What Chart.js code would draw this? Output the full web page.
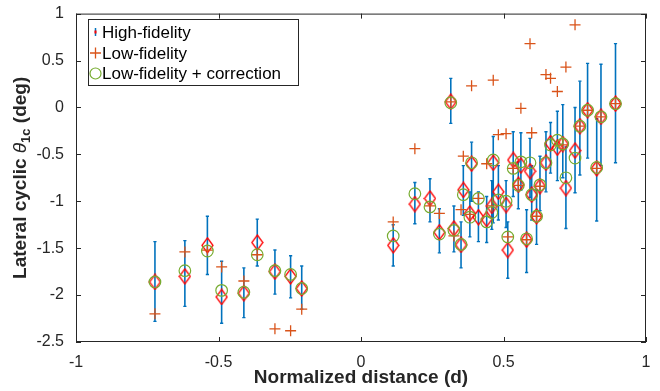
<!DOCTYPE html>
<html>
<head>
<meta charset="utf-8">
<script src="https://cdn.jsdelivr.net/npm/chart.js@4.4.1/dist/chart.umd.min.js"></script>
<style>
  html, body { margin: 0; padding: 0; background: #fff; }
</style>
</head>
<body>
<canvas id="chart" width="660" height="391"></canvas>
<script>
// normalized distance of each test point
const distance = [
  -0.723, -0.618, -0.539, -0.489, -0.411, -0.364, -0.302, -0.247, -0.208,
  0.113, 0.189, 0.242, 0.275, 0.315, 0.326, 0.351, 0.359, 0.388, 0.382,
  0.412, 0.441, 0.459, 0.464, 0.482, 0.509, 0.515, 0.534, 0.552, 0.561,
  0.581, 0.593, 0.599, 0.616, 0.628, 0.649, 0.665, 0.689, 0.708, 0.719,
  0.751, 0.768, 0.795, 0.827, 0.842, 0.893
];
const highFidelity = [
  -1.86, -1.80, -1.47, -2.02, -1.98, -1.44, -1.75, -1.80, -1.93,
  -1.47, -1.03, -0.97, -1.33, 0.06, -1.29, -1.465, -0.88, -0.60, -1.13,
  -1.17, -1.19, -1.05, -0.59, -0.90, -1.04, -1.52, -0.56, -0.825, -0.62,
  -1.41, -0.68, -0.93, -1.16, -0.84, -0.59, -0.38, -0.43, -0.39, -0.86,
  -0.46, -0.20, -0.03, -0.65, -0.10, 0.04
];
const lowFidelity = [
  -2.20, -1.54, -1.52, -1.70, -1.85, -1.57, -2.36, -2.38, -2.15,
  -1.22, -0.44, -1.05, -1.13, 0.06, -1.37, -1.09, -0.52, 0.23, -1.14,
  -0.97, -0.60, -1.05, 0.29, -0.29, -0.28, -1.38, -0.65, -0.83, -0.01,
  -1.41, 0.68, -0.27, -1.16, -0.84, 0.35, 0.31, 0.17, -0.40, 0.43,
  0.88, -0.20, -0.03, -0.65, -0.10, 0.04
];
const corrected = [
  -1.86, -1.74, -1.53, -1.95, -1.97, -1.57, -1.74, -1.78, -1.93,
  -1.37, -0.92, -1.06, -1.35, 0.05, -1.31, -1.46, -0.93, -0.59, -1.17,
  -0.97, -1.22, -1.12, -0.56, -0.985, -1.00, -1.38, -0.65, -0.83, -0.58,
  -1.40, -0.59, -0.93, -1.16, -0.825, -0.59, -0.40, -0.35, -0.39, -0.75,
  -0.54, -0.20, -0.03, -0.64, -0.10, 0.04
];
const errLow = [
  -2.28, -2.12, -1.78, -2.30, -2.24, -1.69, -1.99, -2.03, -2.15,
  -1.69, -1.24, -1.22, -1.55, -0.17, -1.54, -1.71, -1.15, -1.00, -1.38,
  -1.43, -1.44, -1.30, -1.23, -1.20, -1.28, -1.82, -0.95, -1.08, -0.88,
  -1.76, -0.96, -1.20, -1.46, -1.10, -0.90, -0.70, -0.78, -0.75, -1.29,
  -0.91, -0.72, -0.54, -1.21, -0.62, -0.59
];
const errHigh = [
  -1.43, -1.42, -1.16, -1.64, -1.71, -1.19, -1.52, -1.58, -1.69,
  -1.25, -0.80, -0.76, -1.08, 0.31, -1.05, -1.22, -0.62, -0.37, -0.90,
  -0.90, -0.95, -0.78, -0.31, -0.62, -0.78, -1.22, -0.26, -0.58, -0.27,
  -1.09, -0.33, -0.62, -0.88, -0.52, -0.26, -0.16, -0.04, 0.03, -0.42,
  0.00, 0.28, 0.47, -0.12, 0.46, 0.68
];
const xTicks = [-1, -0.5, 0, 0.5, 1];
const yTicks = [-2.5, -2, -1.5, -1, -0.5, 0, 0.5, 1];
const seriesNames = ["High-fidelity", "Low-fidelity", "Low-fidelity + correction"];

const BLUE = "#0072BD";
const RED = "#FF0000";
const ORANGE = "#D95319";
const GREEN = "#77AC30";
const AXIS = "#262626";
const FONT = "'Liberation Sans', Arial, Helvetica, sans-serif";

function makeDiamond(w, h, color) {
  const c = document.createElement("canvas");
  c.width = w; c.height = h;
  const g = c.getContext("2d");
  g.strokeStyle = color;
  g.lineWidth = 1.3;
  g.beginPath();
  g.moveTo(w / 2, 1);
  g.lineTo(w - 1, h / 2);
  g.lineTo(w / 2, h - 1);
  g.lineTo(1, h / 2);
  g.closePath();
  g.stroke();
  return c;
}
const diamond = makeDiamond(13, 17, RED);

const pts = (ys) => distance.map((x, i) => ({ x: x, y: ys[i] }));
const errData = [];
distance.forEach((x, i) => {
  errData.push({ x: x, y: errLow[i] }, { x: x, y: errHigh[i] }, { x: x, y: null });
});

// box, inward ticks, axis titles and the legend, MATLAB style
const matlabFrame = {
  id: "matlabFrame",
  afterDraw(chart) {
    const ctx = chart.ctx;
    const a = chart.chartArea;
    const sx = chart.scales.x, sy = chart.scales.y;
    ctx.save();
    ctx.strokeStyle = AXIS;
    ctx.lineWidth = 1;
    ctx.strokeRect(a.left + 0.5, a.top + 0.5, a.right - a.left - 1, a.bottom - a.top - 1);
    ctx.beginPath();
    xTicks.forEach((v) => {
      const px = Math.round(sx.getPixelForValue(v)) + 0.5;
      ctx.moveTo(px, a.bottom); ctx.lineTo(px, a.bottom - 5);
      ctx.moveTo(px, a.top); ctx.lineTo(px, a.top + 5);
    });
    yTicks.forEach((v) => {
      const py = Math.round(sy.getPixelForValue(v)) + 0.5;
      ctx.moveTo(a.left, py); ctx.lineTo(a.left + 5, py);
      ctx.moveTo(a.right, py); ctx.lineTo(a.right - 5, py);
    });
    ctx.stroke();

    // x title
    ctx.fillStyle = AXIS;
    ctx.font = "bold 19px " + FONT;
    ctx.textAlign = "center";
    ctx.textBaseline = "middle";
    ctx.fillText("Normalized distance (d)", (a.left + a.right) / 2, 378);

    // y title with subscript
    ctx.save();
    ctx.translate(21, (a.top + a.bottom) / 2);
    ctx.rotate(-Math.PI / 2);
    ctx.textAlign = "left";
    const parts = [
      { t: "Lateral cyclic ", f: "bold 19px " + FONT, dy: 0 },
      { t: "\u03B8", f: "italic 19px " + FONT, dy: 0 },
      { t: "1c", f: "bold 13px " + FONT, dy: 5 },
      { t: " (deg)", f: "bold 19px " + FONT, dy: 0 }
    ];
    let total = 0;
    parts.forEach((p) => { ctx.font = p.f; p.w = ctx.measureText(p.t).width; total += p.w; });
    let cx = -total / 2;
    parts.forEach((p) => { ctx.font = p.f; ctx.fillText(p.t, cx, p.dy); cx += p.w; });
    ctx.restore();

    // legend
    ctx.fillStyle = "#fff";
    ctx.fillRect(88, 19, 210, 66);
    ctx.strokeStyle = AXIS;
    ctx.strokeRect(88.5, 19.5, 210, 66);
    const rows = [32, 53, 73.5];
    ctx.font = "17px " + FONT;
    ctx.fillStyle = "#000";
    ctx.textAlign = "left";
    ctx.textBaseline = "middle";
    seriesNames.forEach((name, i) => ctx.fillText(name, 102, rows[i] + 1));
    // high fidelity icon
    ctx.strokeStyle = BLUE;
    ctx.lineWidth = 1.5;
    ctx.beginPath();
    ctx.moveTo(95.5, rows[0] - 4); ctx.lineTo(95.5, rows[0] + 4);
    ctx.stroke();
    ctx.fillStyle = RED;
    ctx.fillRect(94.5, rows[0] - 1.5, 2, 3);
    // low fidelity icon
    ctx.strokeStyle = ORANGE;
    ctx.lineWidth = 1.3;
    ctx.beginPath();
    ctx.moveTo(90, rows[1]); ctx.lineTo(101, rows[1]);
    ctx.moveTo(95.5, rows[1] - 5.5); ctx.lineTo(95.5, rows[1] + 5.5);
    ctx.stroke();
    // corrected icon
    ctx.strokeStyle = GREEN;
    ctx.lineWidth = 1.2;
    ctx.beginPath();
    ctx.arc(95.5, rows[2], 5.5, 0, Math.PI * 2);
    ctx.stroke();
    ctx.restore();
  }
};

new Chart(document.getElementById("chart"), {
  type: "scatter",
  data: {
    datasets: [
      {
        label: "error",
        type: "line",
        data: errData,
        showLine: true,
        spanGaps: false,
        borderColor: BLUE,
        borderWidth: 1.6,
        pointStyle: "line",
        pointRadius: 1.6,
        pointBorderColor: BLUE,
        pointBorderWidth: 1.4,
        order: 4
      },
      {
        label: seriesNames[0],
        data: pts(highFidelity),
        pointStyle: diamond,
        order: 3
      },
      {
        label: seriesNames[1],
        data: pts(lowFidelity),
        pointStyle: "cross",
        pointRadius: 5.5,
        borderColor: ORANGE,
        borderWidth: 1.3,
        order: 2
      },
      {
        label: seriesNames[2],
        data: pts(corrected),
        pointStyle: "circle",
        pointRadius: 5.8,
        borderColor: GREEN,
        backgroundColor: "rgba(0,0,0,0)",
        borderWidth: 1.2,
        order: 1
      }
    ]
  },
  options: {
    responsive: false,
    devicePixelRatio: 1,
    animation: false,
    layout: { padding: { top: 12, right: 14, left: 0, bottom: 0 } },
    plugins: { legend: { display: false }, tooltip: { enabled: false } },
    scales: {
      x: {
        type: "linear",
        min: -1,
        max: 1,
        afterBuildTicks: (s) => { s.ticks = xTicks.map((v) => ({ value: v })); },
        afterFit: (s) => { s.height = 49; },
        grid: { display: false },
        border: { display: false },
        ticks: {
          padding: 3,
          color: AXIS,
          font: { family: FONT, size: 16 },
          maxRotation: 0,
          callback: (v) => String(v)
        }
      },
      y: {
        type: "linear",
        min: -2.5,
        max: 1,
        afterBuildTicks: (s) => { s.ticks = yTicks.map((v) => ({ value: v })); },
        afterFit: (s) => { s.width = 76; },
        grid: { display: false },
        border: { display: false },
        ticks: {
          padding: 4,
          color: AXIS,
          font: { family: FONT, size: 16 },
          callback: (v) => String(v)
        }
      }
    }
  },
  plugins: [matlabFrame]
});
</script>
</body>
</html>
